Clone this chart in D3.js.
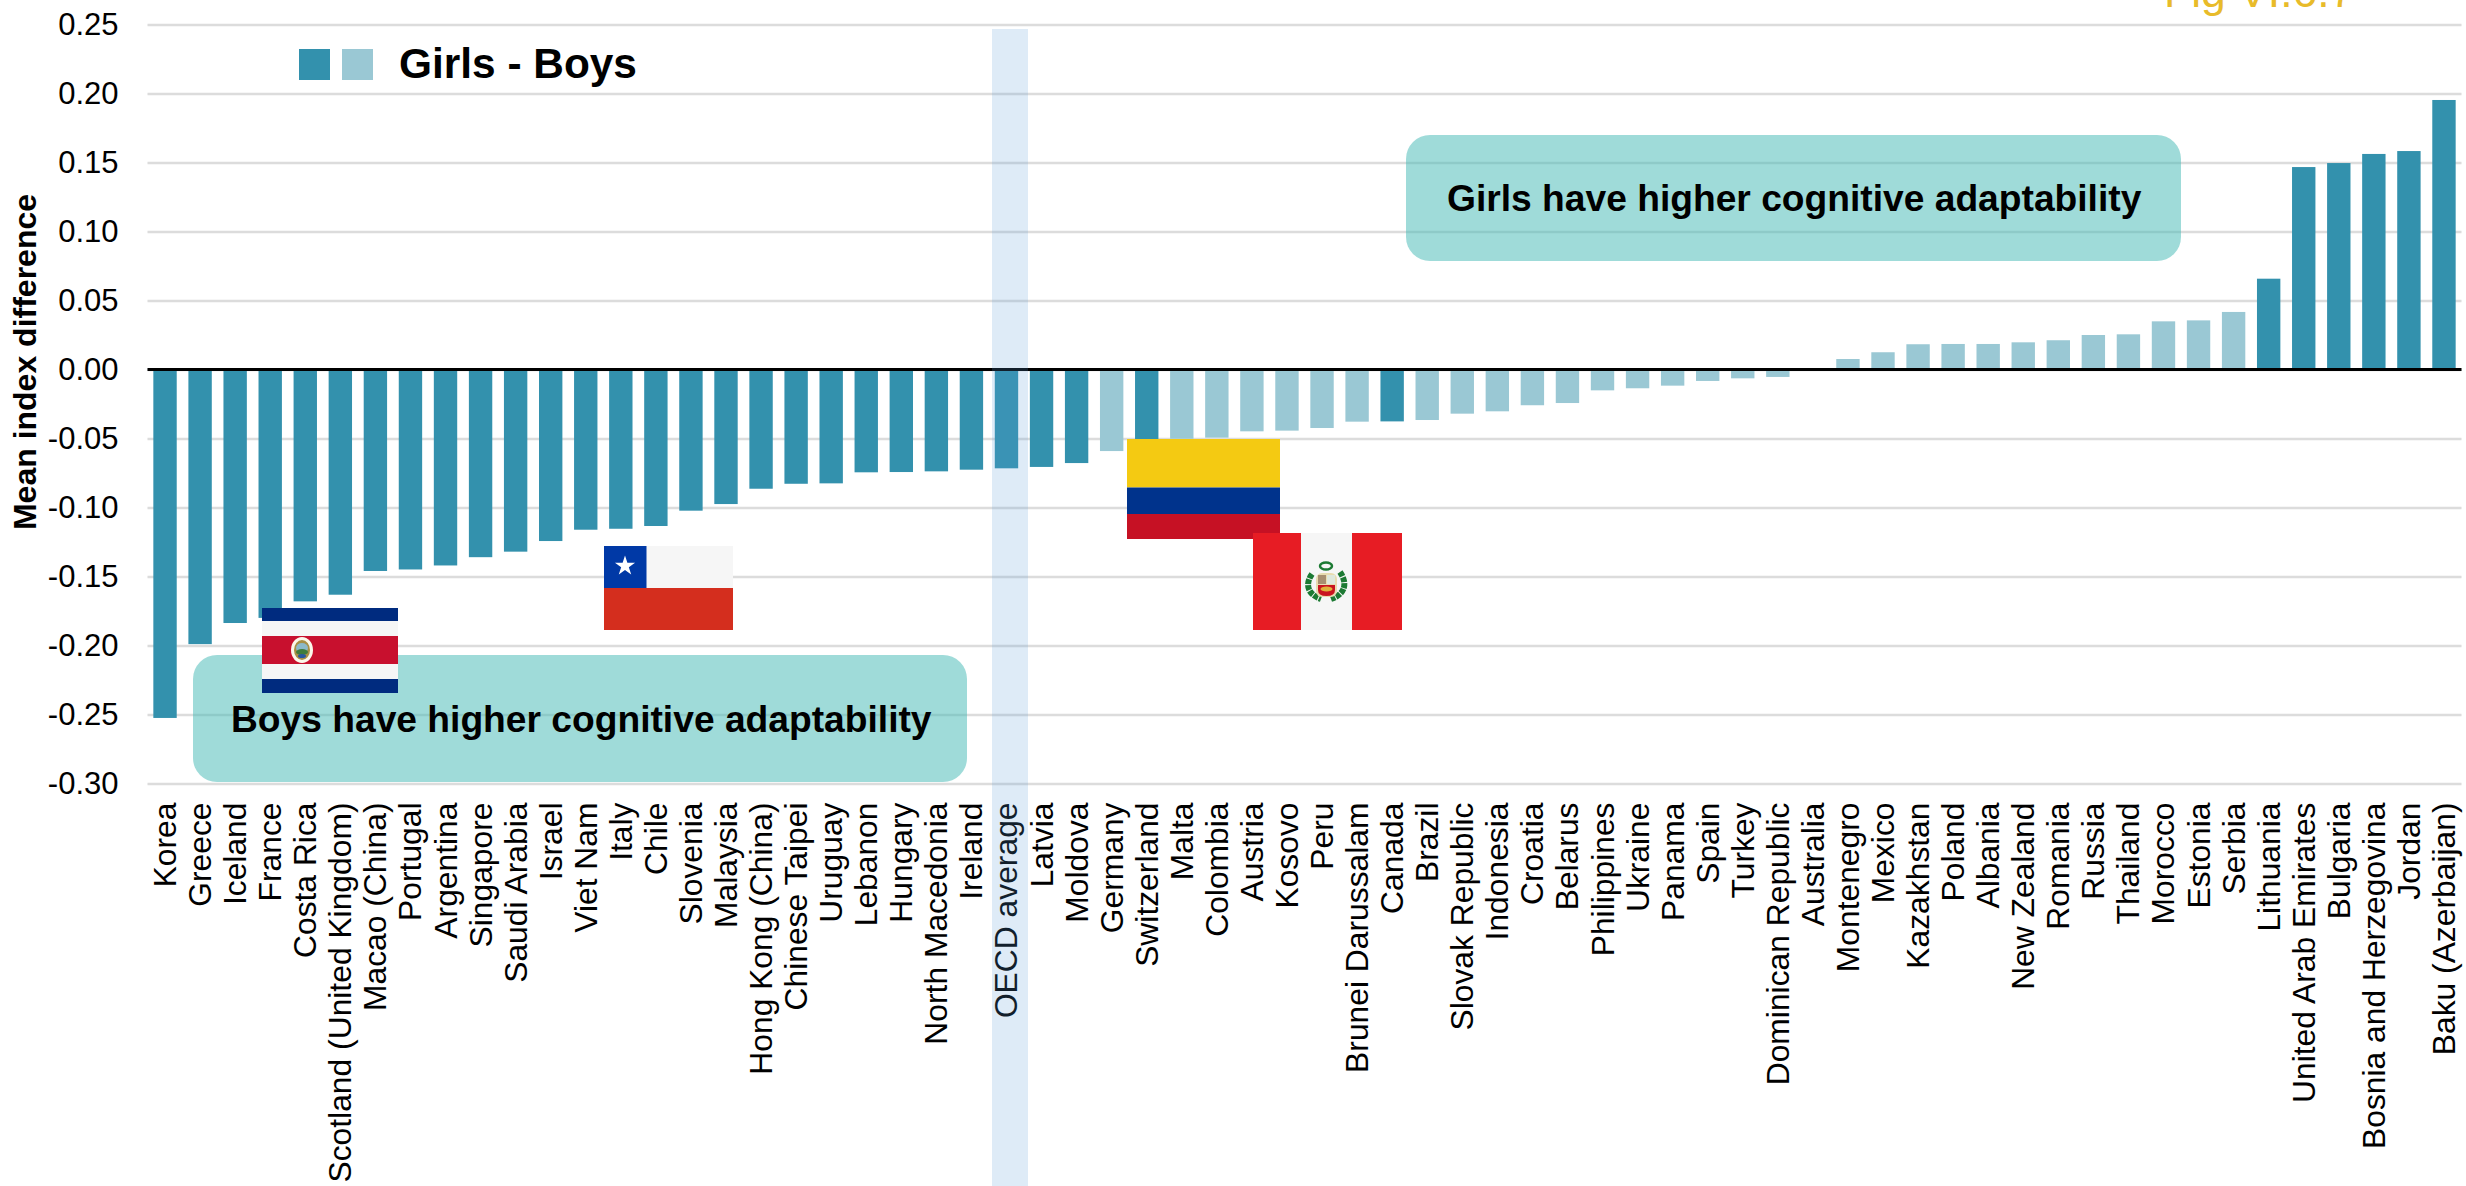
<!DOCTYPE html>
<html>
<head>
<meta charset="utf-8">
<title>Mean index difference, girls minus boys</title>
<script src="https://cdn.jsdelivr.net/npm/d3@7/dist/d3.min.js"></script>
<style>
  html, body { margin: 0; padding: 0; background: #fff; }
  svg { display: block; }
  text { font-family: "Liberation Sans", Arial, sans-serif; }
</style>
</head>
<body>
<svg id="chart" width="2466" height="1186"></svg>
<script>
const countries = ["Korea","Greece","Iceland","France","Costa Rica","Scotland (United Kingdom)","Macao (China)","Portugal","Argentina","Singapore","Saudi Arabia","Israel","Viet Nam","Italy","Chile","Slovenia","Malaysia","Hong Kong (China)","Chinese Taipei","Uruguay","Lebanon","Hungary","North Macedonia","Ireland","OECD average","Latvia","Moldova","Germany","Switzerland","Malta","Colombia","Austria","Kosovo","Peru","Brunei Darussalam","Canada","Brazil","Slovak Republic","Indonesia","Croatia","Belarus","Philippines","Ukraine","Panama","Spain","Turkey","Dominican Republic","Australia","Montenegro","Mexico","Kazakhstan","Poland","Albania","New Zealand","Romania","Russia","Thailand","Morocco","Estonia","Serbia","Lithuania","United Arab Emirates","Bulgaria","Bosnia and Herzegovina","Jordan","Baku (Azerbaijan)"];

const differences = [-0.2525,-0.199,-0.1837,-0.18,-0.168,-0.1632,-0.146,-0.1449,-0.142,-0.136,-0.132,-0.1243,-0.1161,-0.1154,-0.1134,-0.1023,-0.0975,-0.0864,-0.0828,-0.0825,-0.0745,-0.0743,-0.0738,-0.0726,-0.0716,-0.0706,-0.0678,-0.0591,-0.052,-0.0502,-0.0494,-0.0448,-0.0443,-0.0424,-0.0378,-0.0376,-0.0366,-0.032,-0.0303,-0.0259,-0.0243,-0.0151,-0.0136,-0.0117,-0.0083,-0.0064,-0.0054,0,0.0076,0.0125,0.0183,0.0185,0.0185,0.0197,0.0212,0.025,0.0255,0.0349,0.0356,0.0417,0.0658,0.1467,0.1496,0.1562,0.1583,0.1953];

// Countries whose difference is statistically significant take the dark fill.
const significant = ["Korea","Greece","Iceland","France","Costa Rica","Scotland (United Kingdom)","Macao (China)","Portugal","Argentina","Singapore","Saudi Arabia","Israel","Viet Nam","Italy","Chile","Slovenia","Malaysia","Hong Kong (China)","Chinese Taipei","Uruguay","Lebanon","Hungary","North Macedonia","Ireland","OECD average","Latvia","Moldova","Switzerland","Canada","Lithuania","United Arab Emirates","Bulgaria","Bosnia and Herzegovina","Jordan","Baku (Azerbaijan)"];

const yTicks = [0.25,0.20,0.15,0.10,0.05,0,-0.05,-0.10,-0.15,-0.20,-0.25,-0.30];

const DARK = "#3391ad", LIGHT = "#9ac8d4";
const plot = { left: 147.5, right: 2461.5, top: 24.5, bottom: 783.5 };

const svg = d3.select("#chart");
const x = d3.scaleBand().domain(countries).range([plot.left, plot.right]).paddingInner(0.333).paddingOuter(0.1665);
const y = d3.scaleLinear().domain([0.25, -0.30]).range([plot.top, plot.bottom]);

// Horizontal gridlines and value axis; negatives use a plain hyphen
const tickFormat = v => v.toFixed(2);
const yAxis = svg.append("g").attr("transform", `translate(${plot.left},0)`)
  .call(d3.axisLeft(y).tickValues(yTicks).tickFormat(tickFormat).tickSize(-(plot.right - plot.left)).tickPadding(29));
yAxis.select(".domain").remove();
yAxis.selectAll(".tick line").attr("stroke", "#dcdcdc").attr("stroke-width", 2.4);
yAxis.selectAll(".tick text").attr("font-size", 31).attr("fill", "#000")
  .attr("font-family", "Liberation Sans");

// Bars
svg.append("g").selectAll("rect").data(countries).join("rect")
  .attr("x", d => x(d))
  .attr("width", x.bandwidth())
  .attr("y", (d, i) => Math.min(y(differences[i]), y(0)))
  .attr("height", (d, i) => Math.abs(y(differences[i]) - y(0)))
  .attr("fill", d => significant.includes(d) ? DARK : LIGHT);

// Zero baseline
svg.append("line").attr("x1", plot.left).attr("x2", plot.right)
  .attr("y1", y(0)).attr("y2", y(0)).attr("stroke", "#000").attr("stroke-width", 3.2);

// Category labels, rotated and hung from the top
const xAxis = svg.append("g").attr("transform", "translate(0,802.5)")
  .call(d3.axisBottom(x).tickSize(0).tickPadding(0));
xAxis.select(".domain").remove();
xAxis.selectAll(".tick text")
  .attr("font-size", 31.8).attr("fill", "#000").attr("font-family", "Liberation Sans")
  .attr("text-anchor", "end").attr("dy", 0).attr("y", 0)
  .attr("transform", "translate(11,0) rotate(-90)");

// OECD average highlight, laid over bars and label
const oecdCentre = x("OECD average") + x.bandwidth() / 2;
svg.append("rect").attr("x", oecdCentre - 14.5).attr("width", 36).attr("y", 29).attr("height", 1157)
  .attr("fill", "rgb(91,155,213)").attr("opacity", 0.2);

// Y axis title
svg.append("text").attr("transform", "translate(36,362) rotate(-90)")
  .attr("text-anchor", "middle").attr("font-size", 32).attr("font-weight", 700).attr("fill", "#000")
  .text("Mean index difference");

// Legend
svg.append("rect").attr("x", 299).attr("y", 49).attr("width", 31).attr("height", 31).attr("fill", DARK);
svg.append("rect").attr("x", 342).attr("y", 49).attr("width", 31).attr("height", 31).attr("fill", LIGHT);
svg.append("text").attr("x", 399).attr("y", 78).attr("font-size", 42.4).attr("font-weight", 700).attr("fill", "#000").text("Girls - Boys");

// Figure reference running off the top edge
svg.append("text").attr("x", 2164).attr("y", 7).attr("font-size", 44.5).attr("fill", "#e8bb2a").text("Fig VI.6.7");

// Annotation callouts
const callouts = [
  { text: "Girls have higher cognitive adaptability", x: 1406, y: 135, w: 775, h: 126, tx: 1447, ty: 211 },
  { text: "Boys have higher cognitive adaptability", x: 193, y: 655, w: 774, h: 127, tx: 231, ty: 732 }
];
callouts.forEach(c => {
  svg.append("rect").attr("x", c.x).attr("y", c.y).attr("width", c.w).attr("height", c.h).attr("rx", 24).attr("ry", 24)
    .attr("fill", "rgb(71,186,183)").attr("opacity", 0.52);
  svg.append("text").attr("x", c.tx).attr("y", c.ty).attr("font-size", 37.2).attr("font-weight", 700).attr("fill", "#000").text(c.text);
});

// Flags
function stripes(g, items) {
  items.forEach(s => g.append("rect").attr("x", s[0]).attr("y", s[1]).attr("width", s[2]).attr("height", s[3]).attr("fill", s[4]));
}

// Costa Rica
const cr = svg.append("g");
stripes(cr, [
  [262, 608, 136, 85, "#f6f6f6"],
  [262, 608, 136, 13, "#002b7f"],
  [262, 636, 136, 28, "#c8102e"],
  [262, 679, 136, 14, "#002b7f"]
]);
cr.append("ellipse").attr("cx", 302).attr("cy", 650).attr("rx", 11).attr("ry", 13).attr("fill", "#fbf7ea");
cr.append("ellipse").attr("cx", 302).attr("cy", 650).attr("rx", 8).attr("ry", 10).attr("fill", "#a98f45");
cr.append("ellipse").attr("cx", 302).attr("cy", 648).attr("rx", 6).attr("ry", 5).attr("fill", "#8db9c9");
cr.append("ellipse").attr("cx", 302).attr("cy", 652).attr("rx", 6).attr("ry", 3).attr("fill", "#3f7d3c");
cr.append("ellipse").attr("cx", 302).attr("cy", 656).attr("rx", 4).attr("ry", 2).attr("fill", "#2a58a0");

// Chile
const cl = svg.append("g");
stripes(cl, [
  [604, 546, 129, 42, "#f6f6f6"],
  [604, 546, 42.5, 42, "#0039a6"],
  [604, 588, 129, 42, "#d42e1e"]
]);
cl.append("path").attr("transform", "translate(625,566)").attr("d", d3.symbol(d3.symbolStar, 125)()).attr("fill", "#fff");

// Colombia
stripes(svg.append("g"), [
  [1127, 439, 153, 48.5, "#f4ca12"],
  [1127, 487.5, 153, 26.5, "#00338c"],
  [1127, 514, 153, 25, "#c61124"]
]);

// Peru
const pe = svg.append("g");
stripes(pe, [
  [1253, 533, 149, 97, "#e71c24"],
  [1301, 533, 51, 97, "#f6f6f6"]
]);
pe.append("ellipse").attr("cx", 1326).attr("cy", 566).attr("rx", 6).attr("ry", 3.5)
  .attr("fill", "none").attr("stroke", "#1c7a33").attr("stroke-width", 2.5);
pe.append("path").attr("d", "M1312,574 C1305,584 1307,594 1321,599").attr("fill", "none")
  .attr("stroke", "#1c7a33").attr("stroke-width", 6).attr("stroke-dasharray", "5 1");
pe.append("path").attr("d", "M1340,572 C1348,584 1345,594 1331,599").attr("fill", "none")
  .attr("stroke", "#1c7a33").attr("stroke-width", 6).attr("stroke-dasharray", "5 1");
pe.append("rect").attr("x", 1316).attr("y", 573).attr("width", 21).attr("height", 24).attr("rx", 6).attr("fill", "#e8dcb0");
pe.append("rect").attr("x", 1318).attr("y", 575).attr("width", 8).attr("height", 9).attr("fill", "#a88f70");
pe.append("rect").attr("x", 1327).attr("y", 575).attr("width", 8).attr("height", 9).attr("fill", "#dfe8dc");
pe.append("path").attr("d", "M1318,585 H1335 V590 Q1335,596 1326.5,596 Q1318,596 1318,590 Z").attr("fill", "#c9141f");
pe.append("ellipse").attr("cx", 1326.5).attr("cy", 589).attr("rx", 6).attr("ry", 2.5).attr("fill", "#e0b13a");
</script>
</body>
</html>
